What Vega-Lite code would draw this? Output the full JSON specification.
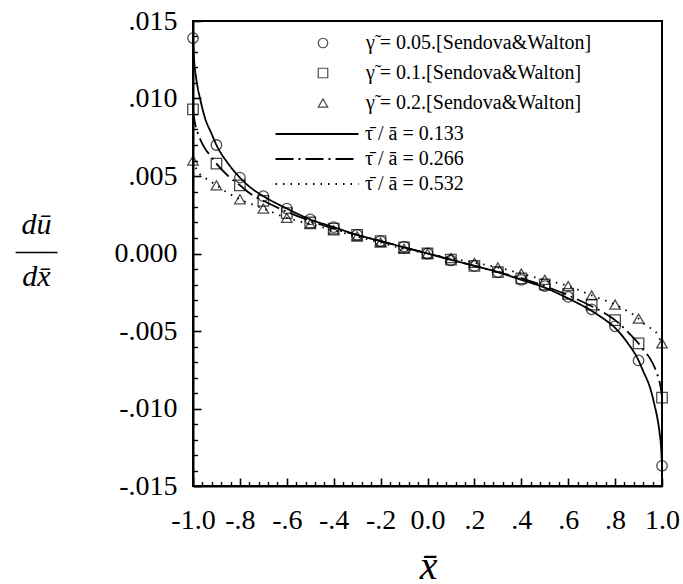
{
  "$schema": "https://vega.github.io/schema/vega-lite/v6.json",
  "width": 469,
  "height": 465,
  "autosize": {"type": "none"},
  "padding": {"left": 193, "top": 21, "right": 21, "bottom": 98},
  "background": "white",
  "config": {
    "view": {"stroke": "black", "strokeWidth": 2},
    "axis": {"grid": false, "zindex": 1, "domainColor": "black", "domainWidth": 2, "tickColor": "black", "tickWidth": 1.5, "labelColor": "black", "labelFont": "Liberation Serif", "labelFontSize": 28, "labelOverlap": false, "labelFlush": false, "titleColor": "black"},
    "legend": {"labelFont": "Liberation Serif", "labelFontSize": 20, "labelColor": "black", "labelLimit": 400}
  },
  "datasets": {
    "lines": [
      {"t": "l1", "x": -1, "y": 0.0139}, {"t": "l1", "x": -0.995, "y": 0.0124}, {"t": "l1", "x": -0.99, "y": 0.0117}, {"t": "l1", "x": -0.98, "y": 0.0107}, {"t": "l1", "x": -0.97, "y": 0.0100}, {"t": "l1", "x": -0.95, "y": 0.0088}, {"t": "l1", "x": -0.92, "y": 0.0077}, {"t": "l1", "x": -0.9, "y": 0.0070}, {"t": "l1", "x": -0.85, "y": 0.0058}, {"t": "l1", "x": -0.8, "y": 0.0049}, {"t": "l1", "x": -0.75, "y": 0.0042}, {"t": "l1", "x": -0.7, "y": 0.0037}, {"t": "l1", "x": -0.6, "y": 0.0029}, {"t": "l1", "x": -0.5, "y": 0.0022}, {"t": "l1", "x": -0.4, "y": 0.0017}, {"t": "l1", "x": -0.3, "y": 0.0012}, {"t": "l1", "x": -0.2, "y": 0.0008}, {"t": "l1", "x": -0.1, "y": 0.0004}, {"t": "l1", "x": 0, "y": 0},
      {"t": "l1", "x": 0.1, "y": -0.0004}, {"t": "l1", "x": 0.2, "y": -0.0008}, {"t": "l1", "x": 0.3, "y": -0.0012}, {"t": "l1", "x": 0.4, "y": -0.0017}, {"t": "l1", "x": 0.5, "y": -0.0022}, {"t": "l1", "x": 0.6, "y": -0.0029}, {"t": "l1", "x": 0.7, "y": -0.0037}, {"t": "l1", "x": 0.75, "y": -0.0042}, {"t": "l1", "x": 0.8, "y": -0.0048}, {"t": "l1", "x": 0.85, "y": -0.0057}, {"t": "l1", "x": 0.9, "y": -0.0069}, {"t": "l1", "x": 0.92, "y": -0.0076}, {"t": "l1", "x": 0.95, "y": -0.0087}, {"t": "l1", "x": 0.97, "y": -0.0099}, {"t": "l1", "x": 0.98, "y": -0.0106}, {"t": "l1", "x": 0.99, "y": -0.0116}, {"t": "l1", "x": 0.995, "y": -0.0123}, {"t": "l1", "x": 1, "y": -0.0137},
      {"t": "l2", "x": -1, "y": 0.0093}, {"t": "l2", "x": -0.995, "y": 0.0087}, {"t": "l2", "x": -0.99, "y": 0.0083}, {"t": "l2", "x": -0.98, "y": 0.0078}, {"t": "l2", "x": -0.97, "y": 0.0074}, {"t": "l2", "x": -0.95, "y": 0.0068}, {"t": "l2", "x": -0.92, "y": 0.0062}, {"t": "l2", "x": -0.9, "y": 0.0058}, {"t": "l2", "x": -0.85, "y": 0.0050}, {"t": "l2", "x": -0.8, "y": 0.0044}, {"t": "l2", "x": -0.75, "y": 0.0038}, {"t": "l2", "x": -0.7, "y": 0.0034}, {"t": "l2", "x": -0.6, "y": 0.0027}, {"t": "l2", "x": -0.5, "y": 0.0021}, {"t": "l2", "x": -0.4, "y": 0.0016}, {"t": "l2", "x": -0.3, "y": 0.0012}, {"t": "l2", "x": -0.2, "y": 0.0008}, {"t": "l2", "x": -0.1, "y": 0.0004}, {"t": "l2", "x": 0, "y": 0},
      {"t": "l2", "x": 0.1, "y": -0.0004}, {"t": "l2", "x": 0.2, "y": -0.0008}, {"t": "l2", "x": 0.3, "y": -0.0012}, {"t": "l2", "x": 0.4, "y": -0.0016}, {"t": "l2", "x": 0.5, "y": -0.0021}, {"t": "l2", "x": 0.6, "y": -0.0027}, {"t": "l2", "x": 0.7, "y": -0.0034}, {"t": "l2", "x": 0.75, "y": -0.0038}, {"t": "l2", "x": 0.8, "y": -0.0043}, {"t": "l2", "x": 0.85, "y": -0.0050}, {"t": "l2", "x": 0.9, "y": -0.0058}, {"t": "l2", "x": 0.92, "y": -0.0062}, {"t": "l2", "x": 0.95, "y": -0.0068}, {"t": "l2", "x": 0.97, "y": -0.0074}, {"t": "l2", "x": 0.98, "y": -0.0078}, {"t": "l2", "x": 0.99, "y": -0.0083}, {"t": "l2", "x": 0.995, "y": -0.0087}, {"t": "l2", "x": 1, "y": -0.0093},
      {"t": "l3", "x": -1, "y": 0.0060}, {"t": "l3", "x": -0.99, "y": 0.0056}, {"t": "l3", "x": -0.98, "y": 0.0053}, {"t": "l3", "x": -0.95, "y": 0.0049}, {"t": "l3", "x": -0.92, "y": 0.0046}, {"t": "l3", "x": -0.9, "y": 0.0044}, {"t": "l3", "x": -0.85, "y": 0.0039}, {"t": "l3", "x": -0.8, "y": 0.0035}, {"t": "l3", "x": -0.7, "y": 0.0029}, {"t": "l3", "x": -0.6, "y": 0.0023}, {"t": "l3", "x": -0.5, "y": 0.0019}, {"t": "l3", "x": -0.4, "y": 0.0015}, {"t": "l3", "x": -0.3, "y": 0.0011}, {"t": "l3", "x": -0.2, "y": 0.0007}, {"t": "l3", "x": -0.1, "y": 0.0003}, {"t": "l3", "x": 0, "y": 0},
      {"t": "l3", "x": 0.1, "y": -0.0003}, {"t": "l3", "x": 0.2, "y": -0.0006}, {"t": "l3", "x": 0.3, "y": -0.0009}, {"t": "l3", "x": 0.4, "y": -0.0013}, {"t": "l3", "x": 0.5, "y": -0.0017}, {"t": "l3", "x": 0.6, "y": -0.0021}, {"t": "l3", "x": 0.7, "y": -0.0027}, {"t": "l3", "x": 0.8, "y": -0.0033}, {"t": "l3", "x": 0.85, "y": -0.0037}, {"t": "l3", "x": 0.9, "y": -0.0042}, {"t": "l3", "x": 0.92, "y": -0.0045}, {"t": "l3", "x": 0.95, "y": -0.0048}, {"t": "l3", "x": 0.98, "y": -0.0052}, {"t": "l3", "x": 0.99, "y": -0.0055}, {"t": "l3", "x": 1, "y": -0.0058}
    ],
    "pts": [
      {"g": "c1", "x": -1, "y": 0.0139}, {"g": "c1", "x": -0.9, "y": 0.0070}, {"g": "c1", "x": -0.8, "y": 0.0049}, {"g": "c1", "x": -0.7, "y": 0.0037}, {"g": "c1", "x": -0.6, "y": 0.0029}, {"g": "c1", "x": -0.5, "y": 0.0022}, {"g": "c1", "x": -0.4, "y": 0.0017}, {"g": "c1", "x": -0.3, "y": 0.0012}, {"g": "c1", "x": -0.2, "y": 0.0008}, {"g": "c1", "x": -0.1, "y": 0.00045}, {"g": "c1", "x": 0, "y": 0}, {"g": "c1", "x": 0.1, "y": -0.00045}, {"g": "c1", "x": 0.2, "y": -0.0008}, {"g": "c1", "x": 0.3, "y": -0.0012}, {"g": "c1", "x": 0.4, "y": -0.0017}, {"g": "c1", "x": 0.5, "y": -0.0021}, {"g": "c1", "x": 0.6, "y": -0.0028}, {"g": "c1", "x": 0.7, "y": -0.0036}, {"g": "c1", "x": 0.8, "y": -0.0047}, {"g": "c1", "x": 0.9, "y": -0.0069}, {"g": "c1", "x": 1, "y": -0.0137},
      {"g": "c2", "x": -1, "y": 0.0093}, {"g": "c2", "x": -0.9, "y": 0.0058}, {"g": "c2", "x": -0.8, "y": 0.0044}, {"g": "c2", "x": -0.7, "y": 0.0034}, {"g": "c2", "x": -0.6, "y": 0.0026}, {"g": "c2", "x": -0.5, "y": 0.0020}, {"g": "c2", "x": -0.4, "y": 0.0016}, {"g": "c2", "x": -0.3, "y": 0.0012}, {"g": "c2", "x": -0.2, "y": 0.0008}, {"g": "c2", "x": -0.1, "y": 0.0004}, {"g": "c2", "x": 0, "y": 0}, {"g": "c2", "x": 0.1, "y": -0.0004}, {"g": "c2", "x": 0.2, "y": -0.0008}, {"g": "c2", "x": 0.3, "y": -0.0012}, {"g": "c2", "x": 0.4, "y": -0.0016}, {"g": "c2", "x": 0.5, "y": -0.0020}, {"g": "c2", "x": 0.6, "y": -0.0026}, {"g": "c2", "x": 0.7, "y": -0.0033}, {"g": "c2", "x": 0.8, "y": -0.0043}, {"g": "c2", "x": 0.9, "y": -0.0058}, {"g": "c2", "x": 1, "y": -0.0093},
      {"g": "c3", "x": -1, "y": 0.0060}, {"g": "c3", "x": -0.9, "y": 0.0044}, {"g": "c3", "x": -0.8, "y": 0.0035}, {"g": "c3", "x": -0.7, "y": 0.0029}, {"g": "c3", "x": -0.6, "y": 0.0023}, {"g": "c3", "x": -0.5, "y": 0.0019}, {"g": "c3", "x": -0.4, "y": 0.0015}, {"g": "c3", "x": -0.3, "y": 0.0011}, {"g": "c3", "x": -0.2, "y": 0.0007}, {"g": "c3", "x": -0.1, "y": 0.0003}, {"g": "c3", "x": 0, "y": 0}, {"g": "c3", "x": 0.1, "y": -0.0003}, {"g": "c3", "x": 0.2, "y": -0.0006}, {"g": "c3", "x": 0.3, "y": -0.0009}, {"g": "c3", "x": 0.4, "y": -0.0013}, {"g": "c3", "x": 0.5, "y": -0.0017}, {"g": "c3", "x": 0.6, "y": -0.0021}, {"g": "c3", "x": 0.7, "y": -0.0027}, {"g": "c3", "x": 0.8, "y": -0.0033}, {"g": "c3", "x": 0.9, "y": -0.0042}, {"g": "c3", "x": 1, "y": -0.0058}
    ]
  },
  "resolve": {"axis": {"x": "independent", "y": "independent"}},
  "layer": [
    {
      "data": {"name": "lines"},
      "mark": {"type": "line", "interpolate": "monotone", "color": "black", "strokeWidth": 1.8},
      "encoding": {
        "x": {"field": "x", "type": "quantitative", "scale": {"domain": [-1, 1], "nice": false, "zero": false},
          "axis": {"orient": "bottom", "values": [-1, -0.8, -0.6, -0.4, -0.2, 0, 0.2, 0.4, 0.6, 0.8, 1], "ticks": false, "tickSize": 0, "labelPadding": 20,
            "labelExpr": "abs(datum.value) < 1e-9 ? '0.0' : (datum.value < 0 ? '-' : '') + (abs(datum.value) > 0.999 ? '1.0' : slice(format(abs(datum.value), '.1f'), 1))",
            "title": "x̄", "titleFont": "Liberation Serif", "titleFontStyle": "italic", "titleFontWeight": "normal", "titleFontSize": 40, "titleX": 235, "titleY": 92, "titleBaseline": "alphabetic", "titleAlign": "center"}},
        "y": {"field": "y", "type": "quantitative", "scale": {"domain": [-0.015, 0.015], "nice": false, "zero": false},
          "axis": {"orient": "left", "values": [-0.015, -0.01, -0.005, 0, 0.005, 0.01, 0.015], "ticks": false, "tickSize": 0, "labelPadding": 16,
            "labelExpr": "abs(datum.value) < 1e-9 ? '0.000' : (datum.value < 0 ? '-' : '') + slice(format(abs(datum.value), '.3f'), 1)",
            "title": ["dū", "—–", "dx̄"], "titleFont": "Liberation Serif", "titleFontStyle": "italic", "titleFontWeight": "normal", "titleFontSize": 30, "titleLineHeight": 26, "titleAngle": 0, "titleX": -157, "titleY": 203, "titleAlign": "center", "titleBaseline": "middle"}},
        "strokeDash": {"field": "t", "type": "nominal", "scale": {"domain": ["l1", "l2", "l3"], "range": [[1, 0], [18, 5, 2, 5], [1.5, 6]]},
          "legend": {"orient": "none", "direction": "vertical", "legendX": 114, "legendY": 103, "title": null, "symbolType": "M-8.3,0H8.3", "symbolSize": 100, "symbolStrokeWidth": 1.8, "symbolStrokeColor": "black", "labelOffset": 38, "rowPadding": 5,
            "labelExpr": "datum.label == 'l1' ? 'τ̄ / ā = 0.133' : datum.label == 'l2' ? 'τ̄ / ā = 0.266' : 'τ̄ / ā = 0.532'"}}
      }
    },
    {
      "data": {"name": "pts"},
      "mark": {"type": "point", "filled": false, "color": "black", "size": 110, "strokeWidth": 1.3},
      "encoding": {
        "x": {"field": "x", "type": "quantitative",
          "axis": {"orient": "top", "offset": -465, "values": [-1, -0.8, -0.6, -0.4, -0.2, 0, 0.2, 0.4, 0.6, 0.8, 1], "ticks": true, "tickSize": 8, "tickWidth": 1.6, "labels": false, "domain": false, "title": null}},
        "y": {"field": "y", "type": "quantitative",
          "axis": {"orient": "right", "offset": -469, "values": [-0.015, -0.01, -0.005, 0, 0.005, 0.01, 0.015], "ticks": true, "tickSize": 8, "tickWidth": 1.6, "labels": false, "domain": false, "title": null}},
        "shape": {"field": "g", "type": "nominal", "scale": {"domain": ["c1", "c2", "c3"], "range": ["circle", "square", "triangle-up"]},
          "legend": {"orient": "none", "direction": "vertical", "legendX": 120, "legendY": 12, "title": null, "symbolSize": 90, "symbolStrokeWidth": 1.2, "symbolStrokeColor": "black", "labelOffset": 33, "rowPadding": 10,
            "labelExpr": "datum.label == 'c1' ? 'γ̃ = 0.05.[Sendova&Walton]' : datum.label == 'c2' ? 'γ̃ = 0.1.[Sendova&Walton]' : 'γ̃ = 0.2.[Sendova&Walton]'"}}
      }
    },
    {
      "data": {"name": "pts"},
      "mark": {"type": "point", "opacity": 0},
      "encoding": {
        "x": {"field": "x", "type": "quantitative",
          "axis": {"orient": "top", "offset": -465, "values": [-0.96, -0.92, -0.88, -0.84, -0.76, -0.72, -0.68, -0.64, -0.56, -0.52, -0.48, -0.44, -0.36, -0.32, -0.28, -0.24, -0.16, -0.12, -0.08, -0.04, 0.04, 0.08, 0.12, 0.16, 0.24, 0.28, 0.32, 0.36, 0.44, 0.48, 0.52, 0.56, 0.64, 0.68, 0.72, 0.76, 0.84, 0.88, 0.92, 0.96], "ticks": true, "tickSize": 4.5, "tickWidth": 1.4, "labels": false, "domain": false, "title": null}},
        "y": {"field": "y", "type": "quantitative",
          "axis": {"orient": "right", "offset": -469, "values": [-0.014, -0.013, -0.012, -0.011, -0.009, -0.008, -0.007, -0.006, -0.004, -0.003, -0.002, -0.001, 0.001, 0.002, 0.003, 0.004, 0.006, 0.007, 0.008, 0.009, 0.011, 0.012, 0.013, 0.014], "ticks": true, "tickSize": 4.5, "tickWidth": 1.4, "labels": false, "domain": false, "title": null}}
      }
    }
  ]
}
